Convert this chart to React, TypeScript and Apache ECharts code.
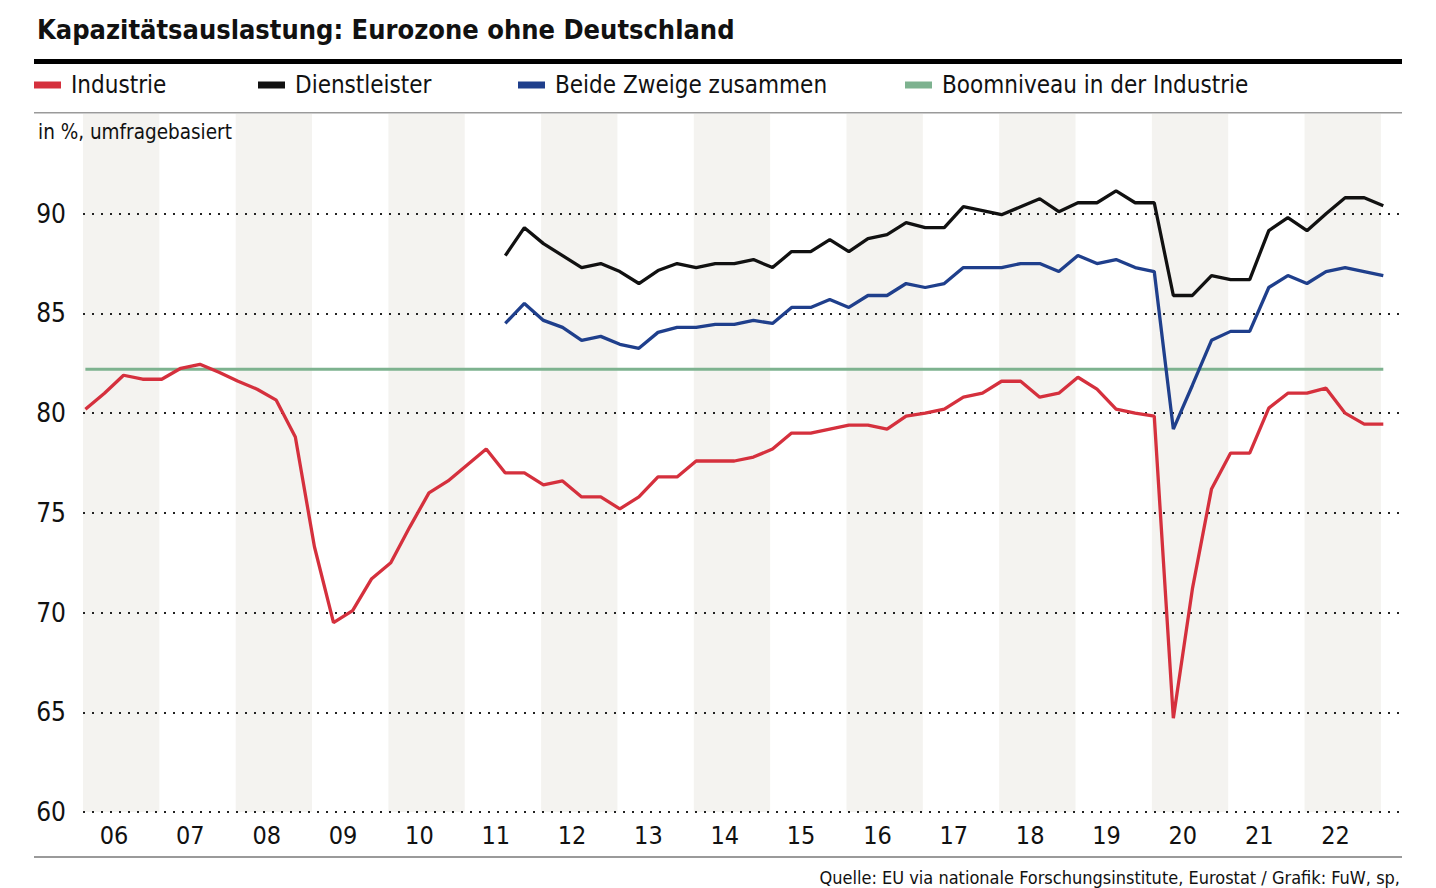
import React, { useEffect, useRef } from "react";
import * as echarts from "echarts";

const START_YEAR = 2006;
const QUARTERS: string[] = [];
for (let y = 2006; y <= 2023; y++) {
  for (let q = 1; q <= 4; q++) {
    if (y === 2023 && q > 1) break;
    QUARTERS.push(`${y}Q${q}`);
  }
}

const INDUSTRIE = [
  80.2, 81.0, 81.9, 81.7,
  81.7, 82.25, 82.45, 82.05,
  81.6, 81.2, 80.65, 78.8,
  73.3, 69.5, 70.1, 71.7,
  72.5, 74.3, 76.0, 76.6,
  77.4, 78.2, 77.0, 77.0,
  76.4, 76.6, 75.8, 75.8,
  75.2, 75.8, 76.8, 76.8,
  77.6, 77.6, 77.6, 77.8,
  78.2, 79.0, 79.0, 79.2,
  79.4, 79.4, 79.2, 79.85,
  80.0, 80.2, 80.8, 81.0,
  81.6, 81.6, 80.8, 81.0,
  81.8, 81.2, 80.2, 80.0,
  79.85, 64.7, 71.2, 76.2,
  78.0, 78.0, 80.25, 81.0,
  81.0, 81.25, 80.0, 79.45,
  79.45,
];

const SERVICES_START = "2011Q3";
const DIENSTLEISTER = [
  87.9, 89.3,
  88.5, 87.9, 87.3, 87.5,
  87.1, 86.5, 87.15, 87.5,
  87.3, 87.5, 87.5, 87.7,
  87.3, 88.1, 88.1, 88.7,
  88.1, 88.75, 88.95, 89.55,
  89.3, 89.3, 90.35, 90.15,
  89.95, 90.35, 90.75, 90.1,
  90.55, 90.55, 91.15, 90.55,
  90.55, 85.9, 85.9, 86.9,
  86.7, 86.7, 89.15, 89.8,
  89.15, 90.0, 90.8, 90.8,
  90.4,
];

const BEIDE = [
  84.5, 85.5,
  84.65, 84.3, 83.65, 83.85,
  83.45, 83.25, 84.05, 84.3,
  84.3, 84.45, 84.45, 84.65,
  84.5, 85.3, 85.3, 85.7,
  85.3, 85.9, 85.9, 86.5,
  86.3, 86.5, 87.3, 87.3,
  87.3, 87.5, 87.5, 87.1,
  87.9, 87.5, 87.7, 87.3,
  87.1, 79.2, 81.4, 83.65,
  84.1, 84.1, 86.3, 86.9,
  86.5, 87.1, 87.3, 87.1,
  86.9,
];

const BOOM_LEVEL = 82.2;
const SHADED_YEARS = [2006, 2008, 2010, 2012, 2014, 2016, 2018, 2020, 2022];
const Y_TICKS = [60, 65, 70, 75, 80, 85, 90];

const FONT = "'Liberation Sans Narrow', 'DejaVu Sans Condensed', 'Roboto Condensed', 'Noto Sans', sans-serif";
const RED = "#d5303d";
const BLACK = "#111111";
const BLUE = "#1f3f8c";
const GREEN = "#7db28f";
const BAND = "#f4f3f0";

// position of a quarter on the year-scale axis
const qx = (label: string) => {
  const i = QUARTERS.indexOf(label);
  return START_YEAR + i / 4 + 1 / 32;
};

export default function App() {
  const ref = useRef<HTMLDivElement>(null);

  useEffect(() => {
    if (!ref.current) return;
    const chart = echarts.init(ref.current, undefined, { renderer: "svg" });
    const svcOffset = QUARTERS.indexOf(SERVICES_START);

    const indData = INDUSTRIE.map((v, i) => [qx(QUARTERS[i]), v]);
    const dlData = DIENSTLEISTER.map((v, i) => [qx(QUARTERS[i + svcOffset]), v]);
    const bdData = BEIDE.map((v, i) => [qx(QUARTERS[i + svcOffset]), v]);
    const boomData = [
      [qx(QUARTERS[0]), BOOM_LEVEL],
      [qx(QUARTERS[QUARTERS.length - 1]), BOOM_LEVEL],
    ];

    const legendBase = {
      top: 73,
      padding: 0,
      icon: "rect",
      itemWidth: 27,
      itemHeight: 7,
      textStyle: { fontFamily: FONT, fontSize: 24, color: BLACK, padding: [0, 0, 0, 5] },
      selectedMode: false,
    };

    const splitColors = Y_TICKS.map(() => "#222").concat(["rgba(0,0,0,0)", "rgba(0,0,0,0)"]);

    chart.setOption({
      animation: false,
      backgroundColor: "#ffffff",
      title: {
        text: "Kapazitätsauslastung: Eurozone ohne Deutschland",
        left: 37,
        top: 16,
        padding: 0,
        textStyle: { fontFamily: FONT, fontSize: 27, fontWeight: "bold", color: BLACK },
      },
      legend: [
        { ...legendBase, left: 34, data: ["Industrie"] },
        { ...legendBase, left: 258, data: ["Dienstleister"] },
        { ...legendBase, left: 518, data: ["Beide Zweige zusammen"] },
        { ...legendBase, left: 905, data: ["Boomniveau in der Industrie"] },
      ],
      grid: { left: 83, right: 36, top: 114, bottom: 76, containLabel: false },
      xAxis: {
        type: "value",
        min: 2006,
        max: 2023.25,
        interval: 1,
        z: 2,
        axisLine: { show: false },
        axisTick: { show: false },
        splitLine: { show: false },
        axisLabel: {
          fontFamily: FONT,
          fontSize: 25,
          color: BLACK,
          margin: 11,
          align: "center",
          padding: [0, 0, 0, 62],
          formatter: (v: number) =>
            Number.isInteger(v) && v < 2023 ? String(v).slice(2) : "",
          showMaxLabel: false,
        },
      },
      yAxis: {
        type: "value",
        min: 60,
        max: 95,
        interval: 5,
        z: 2,
        axisLine: { show: false },
        axisTick: { show: false },
        axisLabel: {
          fontFamily: FONT,
          fontSize: 26,
          color: BLACK,
          margin: 17,
          formatter: (v: number) => (Y_TICKS.includes(v) ? String(v) : ""),
        },
        splitLine: {
          show: true,
          lineStyle: { color: splitColors, type: [2, 7], width: 2 },
        },
      },
      graphic: [
        { type: "rect", left: 34, top: 59, shape: { width: 1368, height: 5 }, style: { fill: "#000" }, z: 10 },
        { type: "rect", left: 34, top: 112, shape: { width: 1368, height: 1.5 }, style: { fill: "#9a9a9a" }, z: 10 },
        { type: "rect", left: 34, top: 856, shape: { width: 1368, height: 2 }, style: { fill: "#9a9a9a" }, z: 10 },
        {
          type: "text",
          left: 38,
          top: 121,
          z: 10,
          style: { text: "in %, umfragebasiert", fontFamily: FONT, fontSize: 20.5, fill: BLACK },
        },
        {
          type: "text",
          right: 36,
          top: 868,
          z: 10,
          style: {
            text: "Quelle: EU via nationale Forschungsinstitute, Eurostat / Grafik: FuW, sp,",
            fontFamily: FONT,
            fontSize: 18,
            fill: BLACK,
          },
        },
      ],
      series: [
        {
          name: "Boomniveau in der Industrie",
          type: "line",
          data: boomData,
          symbol: "none",
          lineStyle: { color: GREEN, width: 3 },
          itemStyle: { color: GREEN },
          z: 3,
          markArea: {
            silent: true,
            itemStyle: { color: BAND },
            data: SHADED_YEARS.map((y) => [{ xAxis: y }, { xAxis: y + 1 }]),
            z: -5,
          },
        },
        {
          name: "Industrie",
          type: "line",
          data: indData,
          symbol: "none",
          lineStyle: { color: RED, width: 3.3 },
          itemStyle: { color: RED },
          z: 4,
        },
        {
          name: "Dienstleister",
          type: "line",
          data: dlData,
          symbol: "none",
          lineStyle: { color: BLACK, width: 3.3 },
          itemStyle: { color: BLACK },
          clip: false,
          z: 4,
        },
        {
          name: "Beide Zweige zusammen",
          type: "line",
          data: bdData,
          symbol: "none",
          lineStyle: { color: BLUE, width: 3.3 },
          itemStyle: { color: BLUE },
          z: 4,
        },
      ],
    });

    return () => chart.dispose();
  }, []);

  return (
    <div
      ref={ref}
      style={{ position: "fixed", left: 0, top: 0, width: 1436, height: 888, background: "#fff" }}
    />
  );
}
